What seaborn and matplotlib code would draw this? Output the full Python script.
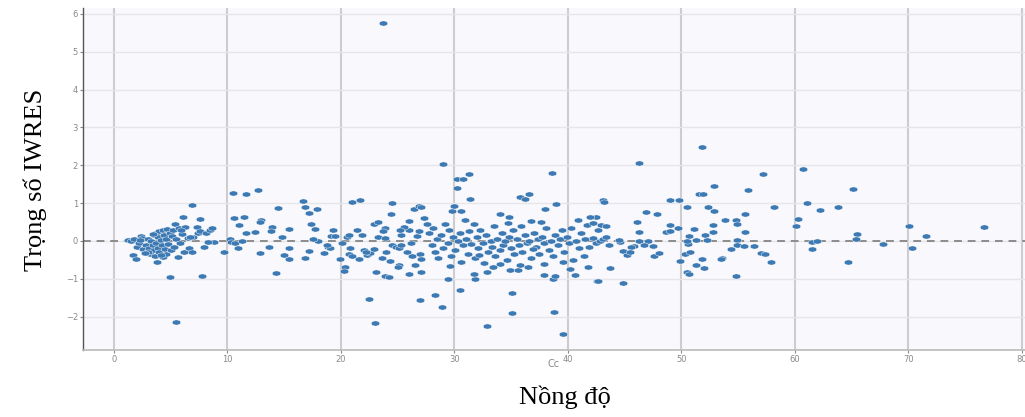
import matplotlib
matplotlib.use("Agg")
import matplotlib.pyplot as plt
from matplotlib.path import Path
from matplotlib.transforms import Affine2D
import pandas as pd
import seaborn as sns

# concentration (Cc) and IWRES, grouped by x range
conc_low = [
    1.2, 1.5, 1.8, 2.4, 1.7, 1.9, 2.0, 2.2, 2.5, 2.6,
    2.8, 2.9, 3.0, 3.1, 3.2, 3.3, 3.4, 3.5, 3.5, 3.6,
    3.7, 3.7, 3.8, 3.9, 3.9, 4.0, 4.0, 4.1, 4.2, 4.3,
    4.3, 4.4, 4.5, 4.6, 4.6, 4.7, 4.8, 4.9, 4.9, 5.0,
    5.1, 5.2, 5.3, 5.4, 5.5, 5.5, 5.6, 5.7, 5.8, 6.0,
    6.1, 6.2, 6.3, 6.5, 6.6, 6.9, 6.9, 7.0, 7.3, 7.4,
    7.6, 7.6, 7.8, 7.9, 8.1, 8.5, 8.6, 8.8, 2.3, 3.0,
    4.1, 2.7, 3.4, 5.9, 6.7, 8.3,
]
iwres_low = [
    0.03, 0.0, 0.05, 0.12, -0.37, -0.48, -0.15, -0.05, 0.08, -0.22,
    -0.12, -0.3, 0.05, -0.2, -0.35, 0.0, -0.1, 0.15, -0.25, -0.4,
    0.21, -0.05, -0.55, 0.1, -0.18, 0.25, -0.3, 0.02, -0.12, 0.3,
    -0.42, 0.15, -0.22, 0.05, -0.35, 0.32, -0.08, -0.96, 0.2, -0.25,
    0.12, 0.28, -0.15, 0.45, -2.15, 0.05, -0.43, 0.35, -0.05, 0.18,
    0.64, -0.28, 0.38, 0.08, -0.19, 0.95, -0.28, 0.1, 0.38, 0.2,
    0.58, 0.26, -0.92, -0.15, 0.22, 0.29, 0.33, -0.04, 0.02, -0.28,
    -0.38, -0.32, 0.18, 0.3, 0.1, -0.02,
]

conc_10_16 = [
    9.7, 10.2, 10.5, 11.6, 12.7, 10.6, 11.5, 11.0, 11.6, 12.4,
    10.3, 10.7, 11.3, 10.9, 13.0, 12.9, 13.9, 13.8, 14.5, 14.8,
    15.4, 13.7, 12.9, 15.4, 15.0, 15.4, 14.3,
]
iwres_10_16 = [
    -0.28, 0.04, 1.28, 1.24, 1.35, 0.61, 0.63, 0.42, 0.2, 0.23,
    -0.03, -0.05, 0.0, -0.19, 0.56, 0.51, 0.38, 0.27, 0.87, 0.11,
    0.31, -0.17, -0.31, -0.2, -0.38, -0.48, -0.85,
]

conc_16_27 = [
    16.7, 16.8, 17.2, 17.9, 17.4, 17.7, 17.2, 16.8, 18.0, 18.5,
    18.9, 19.0, 18.8, 19.1, 19.5, 19.9, 20.5, 20.7, 20.8, 20.7,
    21.0, 20.4, 20.3, 21.0, 21.7, 21.4, 21.9, 21.6, 22.3, 22.6,
    22.9, 22.5, 23.0, 23.1, 22.9, 23.3, 23.9, 23.7, 23.3, 23.9,
    24.5, 24.4, 23.9, 24.2, 24.5, 24.9, 25.1, 25.3, 24.3, 25.1,
    25.0, 26.0, 26.5, 26.0, 26.4, 26.9, 25.3, 26.0, 26.7, 26.9,
    27.0, 27.1, 27.1, 27.0, 23.7, 22.0, 22.2, 25.6, 25.2, 26.2,
    25.8, 26.3, 24.0, 23.6, 20.1, 17.5, 19.3,
]
iwres_16_27 = [
    1.06, 0.91, 0.73, 0.84, 0.45, 0.32, -0.26, -0.44, 0.0, -0.31,
    -0.15, -0.2, -0.1, 0.13, 0.13, -0.48, 0.1, 0.15, -0.18, -0.35,
    -0.4, -0.7, -0.79, 1.03, 1.07, 0.29, 0.16, -0.48, -0.37, -0.33,
    -0.21, -1.53, -2.18, -0.81, 0.45, 0.51, 0.35, 0.25, 0.1, 0.08,
    1.01, 0.71, -0.94, -0.96, -0.1, -0.15, -0.2, -0.12, -0.53, -0.64,
    -0.68, -0.87, -0.64, 0.52, 0.85, 0.93, 0.15, 0.28, 0.12, 0.25,
    -0.35, -0.48, -0.83, -1.55, 5.76, -0.24, -0.3, 0.38, 0.3, -0.05,
    -0.3, -0.4, -0.3, -0.45, -0.05, 0.05, 0.3,
]

conc_27_42 = [
    29.0, 30.2, 30.8, 30.2, 31.3, 31.4, 29.8, 30.6, 30.0, 27.1,
    34.0, 34.8, 34.7, 35.8, 36.2, 36.6, 36.8, 38.0, 38.6, 39.0,
    39.5, 28.3, 28.9, 29.4, 30.5, 32.9, 35.1, 35.1, 38.8, 39.6,
    38.7, 38.9, 37.9, 40.6, 42.6, 34.9, 35.6, 31.8, 31.7, 32.9,
    35.8, 34.0, 37.9, 39.6,
    27.3, 27.6, 27.8, 28.0, 28.1, 28.3, 28.5, 28.6, 28.8, 29.0,
    29.2, 29.4, 29.5, 29.7, 29.9, 30.1, 30.3, 30.5, 30.6, 30.8,
    31.0, 31.2, 31.3, 31.5, 31.7, 31.8, 32.0, 32.1, 32.3, 32.5,
    32.6, 32.8, 33.0, 33.2, 33.3, 33.5, 33.6, 33.8, 34.0, 34.2,
    34.3, 34.5, 34.6, 34.8, 35.0, 35.2, 35.3, 35.5, 35.7, 35.9,
    36.0, 36.2, 36.4, 36.6, 36.8, 37.0, 37.2, 37.4, 37.5, 37.7,
    37.9, 38.1, 38.3, 38.5, 38.7, 38.9, 39.1, 39.3, 39.7, 39.9,
    40.1, 40.3, 40.5, 40.7, 40.9, 41.0, 41.2, 41.4, 41.5, 41.7,
    41.9, 40.2, 36.5, 33.4, 29.6, 41.8, 30.9, 37.6, 32.2, 36.9,
]
iwres_27_42 = [
    2.04, 1.65, 1.65, 1.39, 1.76, 1.1, 0.8, 0.8, 0.93, 0.9,
    0.71, 0.62, 0.48, 1.17, 1.1, 1.25, 0.54, 0.84, 1.79, 0.97,
    0.29, -1.43, -1.74, -1.01, -1.3, -2.25, -1.37, -1.91, -1.87, -2.46,
    -1.01, -0.94, -0.9, -0.9, -1.06, -0.78, -0.78, -1.01, -0.87, -0.81,
    -0.63, -0.6, -0.6, -0.55,
    0.6, 0.45, 0.2, -0.1, 0.35, -0.3, 0.05, -0.45, 0.15, -0.2,
    0.45, -0.05, 0.3, -0.4, 0.1, -0.25, 0.0, 0.22, -0.55, -0.12,
    0.05, -0.35, 0.25, -0.08, 0.45, -0.45, 0.1, -0.2, 0.3, -0.05,
    -0.58, 0.15, -0.3, 0.0, -0.15, 0.4, -0.4, 0.05, -0.25, 0.2,
    -0.1, 0.0, -0.5, 0.1, -0.2, 0.3, -0.35, 0.05, -0.1, 0.4,
    -0.3, 0.15, -0.05, 0.0, -0.45, 0.2, -0.15, 0.05, -0.35, 0.1,
    -0.05, 0.35, -0.25, 0.0, -0.4, 0.15, -0.12, 0.05, -0.3, 0.1,
    -0.05, 0.35, -0.5, 0.0, 0.55, -0.2, 0.2, -0.4, 0.05, 0.42,
    -0.15, -0.75, -0.7, -0.7, -0.65, -0.7, 0.55, 0.5, -0.38, -0.22,
]

conc_42_58 = [
    46.3, 51.8, 52.9, 51.6, 51.9, 57.2, 55.9, 43.1, 43.2, 49.0,
    49.8, 50.5, 52.4, 52.9, 46.9, 47.9, 46.1, 42.5, 42.0, 42.2,
    42.9, 43.4, 42.7, 46.3, 49.0, 48.7, 49.0, 49.7, 51.1, 50.7,
    52.1, 52.8, 52.8, 53.9, 54.8, 54.9, 55.6, 55.6, 42.2, 42.5,
    42.8, 43.1, 43.4, 43.6, 44.6, 44.5, 46.3, 47.1, 46.7, 47.5,
    45.8, 45.6, 44.9, 45.2, 45.5, 47.6, 48.0, 43.7, 42.7, 44.9,
    49.9, 50.3, 50.8, 50.6, 50.5, 51.3, 52.3, 51.3, 52.0, 51.8,
    50.5, 50.7, 53.6, 53.5, 54.4, 54.8, 54.9, 54.9, 55.5, 56.4,
    57.0, 57.4, 57.9,
]
iwres_42_58 = [
    2.05, 2.49, 1.46, 1.24, 1.24, 1.77, 1.35, 1.08, 1.03, 1.08,
    1.09, 0.91, 0.91, 0.79, 0.76, 0.72, 0.49, 0.63, 0.62, 0.47,
    0.42, 0.4, 0.3, 0.23, 0.42, 0.24, 0.25, 0.33, 0.31, 0.14,
    0.16, 0.41, 0.23, 0.56, 0.56, 0.45, 0.72, 0.23, 0.08, -0.05,
    0.0, 0.05, 0.1, -0.12, -0.02, 0.02, 0.0, 0.0, -0.1, -0.13,
    -0.13, -0.15, -0.26, -0.37, -0.3, -0.41, -0.31, -0.71, -1.07, -1.12,
    -0.54, -0.34, -0.29, -0.07, 0.0, 0.02, 0.02, -0.64, -0.72, -0.48,
    -0.81, -0.88, -0.44, -0.48, -0.22, -0.94, 0.02, -0.12, -0.13, -0.13,
    -0.31, -0.34, -0.57,
]

conc_high = [
    60.7, 65.1, 58.2, 61.1, 62.2, 63.8, 60.3, 60.1, 65.5, 65.4,
    61.5, 62.0, 61.5, 67.8, 64.7, 70.1, 70.3, 71.6, 76.7,
]
iwres_high = [
    1.9, 1.38, 0.9, 0.99, 0.81, 0.91, 0.57, 0.39, 0.18, 0.04,
    -0.03, 0.0, -0.21, -0.09, -0.55, 0.4, -0.18, 0.14, 0.38,
]

x_ticks = [0, 10, 20, 30, 40, 50, 60, 70, 80]
y_ticks = [-2, -1, 0, 1, 2, 3, 4, 5, 6]

df = pd.DataFrame({
    "Cc": conc_low + conc_10_16 + conc_16_27 + conc_27_42 + conc_42_58 + conc_high,
    "IWRES": iwres_low + iwres_10_16 + iwres_16_27 + iwres_27_42 + iwres_42_58 + iwres_high,
})

sns.set_theme(style="white")

# dots in the reference are stretched sideways
ellipse = Path.unit_circle().transformed(Affine2D().scale(1.0, 0.6))

fig = plt.figure(figsize=(10.25, 4.17), dpi=100)
ax = fig.add_axes([0.081, 0.161, 0.919, 0.82])
ax.set_facecolor("#f9f9fd")

ax.set_xlim(-2.73, 80.3)
ax.set_ylim(-2.88, 6.16)
ax.set_xticks(x_ticks)
ax.set_yticks(y_ticks)
for x in x_ticks:
    ax.axvline(x, color="#cdcdcf", lw=1.5, zorder=0)
for y in y_ticks:
    ax.axhline(y, color="#e6e6ea", lw=1.0, zorder=0)
ax.axhline(0, color="#8c8c8c", lw=1.4, ls=(0, (4, 3)), zorder=1)

sns.scatterplot(
    data=df, x="Cc", y="IWRES", ax=ax,
    marker=ellipse, s=38, color="#3d7ab4",
    edgecolor="white", linewidth=0.3, zorder=3,
)

ax.set_xlabel("Cc", fontsize=7, color="#888888")
ax.xaxis.set_label_coords(0.5, -0.028)
ax.xaxis.label.set_va("top")
ax.set_ylabel("")
ax.tick_params(axis="both", labelsize=6, colors="#888888", length=2.5, width=0.8,
               direction="out", pad=1.2)
ax.tick_params(axis="x", bottom=True)
ax.tick_params(axis="y", left=True)
for side in ["top", "right"]:
    ax.spines[side].set_visible(False)
ax.spines["left"].set_color("#555555")
ax.spines["left"].set_linewidth(1.0)
ax.spines["bottom"].set_color("#bbbbbb")
ax.spines["bottom"].set_linewidth(1.2)

serif = ["Liberation Serif", "DejaVu Serif"]
fig.text(0.034, 0.568, "Trọng số IWRES", rotation=90, ha="center", va="center",
         family=serif, fontsize=19, color="black")
fig.text(0.551, 0.048, "Nồng độ", ha="center", va="center",
         family=serif, fontsize=19, color="black")

fig.savefig("out.png", dpi=100)
